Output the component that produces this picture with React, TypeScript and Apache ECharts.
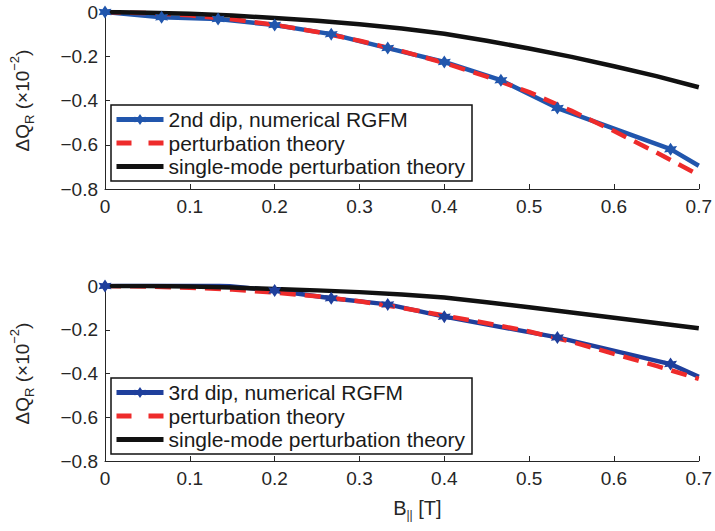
import React, { useEffect, useRef } from "react";
import * as echarts from "echarts";

// ---------- data ----------
const xTicks = [0, 0.1, 0.2, 0.3, 0.4, 0.5, 0.6, 0.7];
const yTicks = [0, -0.2, -0.4, -0.6, -0.8];

// top panel (2nd dip)
const topBlueX = [0, 0.0667, 0.1333, 0.2, 0.2667, 0.3333, 0.4, 0.4667, 0.5333, 0.6667, 0.7];
const topBlueY = [0, -0.024, -0.032, -0.059, -0.1, -0.163, -0.226, -0.308, -0.434, -0.62, -0.695];
const topRedX = [0, 0.05, 0.1, 0.15, 0.2, 0.25, 0.3, 0.35, 0.4, 0.45, 0.5, 0.55, 0.6, 0.65, 0.7];
const topRedY = [0, -0.005, -0.015, -0.033, -0.058, -0.09, -0.13, -0.177, -0.23, -0.292, -0.362, -0.447, -0.538, -0.635, -0.737];
const topBlackX = [0, 0.05, 0.1, 0.15, 0.2, 0.25, 0.3, 0.35, 0.4, 0.45, 0.5, 0.55, 0.6, 0.65, 0.7];
const topBlackY = [0, -0.003, -0.008, -0.016, -0.027, -0.04, -0.055, -0.075, -0.098, -0.13, -0.165, -0.203, -0.245, -0.29, -0.34];

// bottom panel (3rd dip)
const botBlueX = [0, 0.0667, 0.1333, 0.2, 0.2667, 0.3333, 0.4, 0.5333, 0.6667, 0.7];
const botBlueY = [0, 0.012, 0.004, -0.021, -0.056, -0.084, -0.14, -0.235, -0.357, -0.415];
const botRedX = [0, 0.05, 0.1, 0.15, 0.2, 0.25, 0.3, 0.35, 0.4, 0.45, 0.5, 0.55, 0.6, 0.65, 0.7];
const botRedY = [0, -0.002, -0.008, -0.016, -0.03, -0.047, -0.07, -0.1, -0.135, -0.17, -0.208, -0.255, -0.31, -0.365, -0.425];
const botBlackX = [0, 0.05, 0.1, 0.15, 0.2, 0.25, 0.3, 0.35, 0.4, 0.45, 0.5, 0.55, 0.6, 0.65, 0.7];
const botBlackY = [0, 0, -0.002, -0.007, -0.014, -0.02, -0.028, -0.039, -0.053, -0.074, -0.097, -0.121, -0.145, -0.169, -0.193];

const topNames = ["2nd dip, numerical RGFM", "perturbation theory", "single-mode perturbation theory"];
const botNames = ["3rd dip, numerical RGFM", "perturbation theory", "single-mode perturbation theory"];

const FONT = "'Liberation Sans', Arial, Helvetica, sans-serif";
const STAR =
  "path://M0,-10 L3.4,-4.2 L8.7,-5 L6,0 L8.7,5 L3.4,4.2 L0,10 L-3.4,4.2 L-8.7,5 L-6,0 L-8.7,-5 L-3.4,-4.2 Z";
const NOSYM = "path://M0,0 L0.01,0 L0.01,0.01 Z";

const pairs = (xs: number[], ys: number[]) => xs.map((x, i) => [x, ys[i]]);

function blueData(xs: number[], ys: number[]) {
  return xs.map((x, i) =>
    i === xs.length - 1 ? { value: [x, ys[i]], symbol: "none" } : { value: [x, ys[i]] }
  );
}

export default function App() {
  const ref = useRef<HTMLDivElement>(null);
  useEffect(() => {
    if (!ref.current) return;
    const chart = echarts.init(ref.current, null, { renderer: "svg" });

    const axisCommonX = (gridIndex: number) => ({
      type: "value",
      gridIndex,
      min: 0,
      max: 0.7,
      interval: 0.1,
      axisLine: { show: true, onZero: false, lineStyle: { color: "#262626", width: 1 } },
      axisTick: { show: true, inside: true, length: 5, lineStyle: { color: "#262626" } },
      splitLine: { show: false },
      axisLabel: {
        color: "#262626",
        fontSize: 19,
        fontFamily: FONT,
        margin: 8,
        formatter: (v: number) => (Math.abs(v) < 1e-9 ? "0" : v.toFixed(1)),
      },
    });
    const yName = "{a|ΔQ}{s|R}{a| (×10}{p|−2}{a|)}";
    const yRich = {
      a: { fontSize: 19, fontFamily: FONT, color: "#262626", lineHeight: 28 },
      s: { fontSize: 13, fontFamily: FONT, color: "#262626", lineHeight: 13, verticalAlign: "bottom" },
      p: { fontSize: 13, fontFamily: FONT, color: "#262626", lineHeight: 13, verticalAlign: "top" },
    };
    const axisCommonY = (gridIndex: number) => ({
      type: "value",
      gridIndex,
      min: -0.8,
      max: 0,
      interval: 0.2,
      axisLine: { show: true, onZero: false, lineStyle: { color: "#262626", width: 1 } },
      axisTick: { show: true, inside: true, length: 5, lineStyle: { color: "#262626" } },
      splitLine: { show: false },
      axisLabel: {
        color: "#262626",
        fontSize: 19,
        fontFamily: FONT,
        margin: 7,
        formatter: (v: number) => (Math.abs(v) < 1e-9 ? "0" : "−" + Math.abs(v).toFixed(1)),
      },
      name: yName,
      nameLocation: "middle",
      nameGap: 69,
      nameTextStyle: { rich: yRich },
    });

    const blueTop = "#2156ad";
    const blueBot = "#1f3f9c";
    const red = "#ee2b2b";
    const black = "#111111";
    const LW = 4.5;
    const DASH = [16, 9];

    const legendCommon = {
      orient: "vertical",
      left: 111,
      itemWidth: 47,
      itemHeight: 14,
      itemGap: 2.5,
      padding: [4, 7, 4, 3],
      borderColor: "#111",
      borderWidth: 1.5,
      backgroundColor: "#fff",
      selectedMode: false,
      lineStyle: { width: 5 },
      textStyle: { fontSize: 21, fontFamily: FONT, color: "#1a1a1a", lineHeight: 21 },
    };
    const hidden = { opacity: 0, borderWidth: 0 };

    chart.setOption({
      animation: false,
      backgroundColor: "#fff",
      grid: [
        { left: 104, top: 12, width: 595, height: 177 },
        { left: 104, top: 286, width: 595, height: 175 },
      ],
      xAxis: [
        axisCommonX(0),
        {
          ...axisCommonX(1),
          name: "{a|B}{s|||}{a| [T]}",
          nameLocation: "middle",
          nameGap: 34,
          nameTextStyle: {
            padding: [0, 0, 0, 31],
            rich: {
              a: { fontSize: 20, fontFamily: FONT, color: "#262626", lineHeight: 26 },
              s: { fontSize: 12, fontFamily: FONT, color: "#262626", lineHeight: 12, verticalAlign: "bottom" },
            },
          },
        },
      ],
      yAxis: [axisCommonY(0), axisCommonY(1)],
      legend: [
        {
          ...legendCommon,
          top: 105,
          data: [
            { name: topNames[0] },
            { name: topNames[1], lineStyle: { type: [15, 17], width: 5 }, itemStyle: hidden },
            { name: topNames[2], itemStyle: hidden },
          ],
        },
        {
          ...legendCommon,
          top: 378,
          data: [
            { name: botNames[0] },
            { name: botNames[1], lineStyle: { type: [15, 17], width: 5 }, itemStyle: hidden },
            { name: botNames[2], itemStyle: hidden },
          ],
        },
      ],
      series: [
        {
          name: topNames[0],
          type: "line",
          xAxisIndex: 0,
          yAxisIndex: 0,
          data: blueData(topBlueX, topBlueY),
          symbol: STAR,
          symbolSize: 13,
          showAllSymbol: true,
          lineStyle: { color: blueTop, width: LW },
          itemStyle: { color: blueTop },
        },
        {
          name: topNames[1],
          type: "line",
          xAxisIndex: 0,
          yAxisIndex: 0,
          data: pairs(topRedX, topRedY),
          symbol: NOSYM,
          showSymbol: false,
          lineStyle: { color: red, width: LW, type: DASH },
          itemStyle: { color: red },
        },
        {
          name: topNames[2],
          type: "line",
          xAxisIndex: 0,
          yAxisIndex: 0,
          data: pairs(topBlackX, topBlackY),
          symbol: NOSYM,
          showSymbol: false,
          lineStyle: { color: black, width: LW },
          itemStyle: { color: black },
        },
        {
          name: botNames[0],
          type: "line",
          xAxisIndex: 1,
          yAxisIndex: 1,
          data: blueData(botBlueX, botBlueY),
          symbol: STAR,
          symbolSize: 13,
          showAllSymbol: true,
          lineStyle: { color: blueBot, width: LW },
          itemStyle: { color: blueBot },
        },
        {
          name: botNames[1],
          type: "line",
          xAxisIndex: 1,
          yAxisIndex: 1,
          data: pairs(botRedX, botRedY),
          symbol: NOSYM,
          showSymbol: false,
          lineStyle: { color: red, width: LW, type: DASH },
          itemStyle: { color: red },
        },
        {
          name: botNames[2],
          type: "line",
          xAxisIndex: 1,
          yAxisIndex: 1,
          data: pairs(botBlackX, botBlackY),
          symbol: NOSYM,
          showSymbol: false,
          lineStyle: { color: black, width: LW },
          itemStyle: { color: black },
        },
      ],
    });
    return () => chart.dispose();
  }, []);
  return (
    <div
      ref={ref}
      style={{ position: "fixed", left: 0, top: 0, width: 715, height: 531, background: "#fff" }}
    />
  );
}
